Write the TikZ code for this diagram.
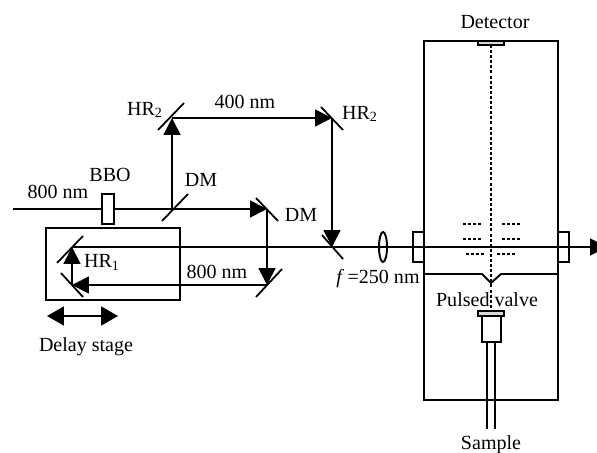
\documentclass[tikz,border=0pt]{standalone}
\usepackage{fontspec}
\setmainfont{Liberation Serif}
\usetikzlibrary{arrows.meta}
\tikzset{
  beam/.style={line width=1pt, -{Triangle[length=0.34cm,width=0.34cm]}},
  mirror/.style={line width=1pt},
  wall/.style={line width=1.1pt},
  plate/.style={line width=1pt, dash pattern=on 1.9pt off 0.95pt},
  every node/.style={font=\fontsize{11.4}{13}\selectfont, inner sep=0pt}
}
\begin{document}
\begin{tikzpicture}[x=0.02cm, y=-0.02cm]
    \useasboundingbox (0,0) rectangle (597,452);
    % Beam points
    \coordinate (start) at (13,209);
    \coordinate (dmA) at (172,209);
    \coordinate (dmB) at (267,209);
    \coordinate (hrLeft) at (172,118);
    \coordinate (hrRight) at (332,118);
    \coordinate (foldA) at (267,285);
    \coordinate (hrLow) at (72,285);
    \coordinate (hrHigh) at (72,247);
    \coordinate (dmC) at (332,247);
    \coordinate (exit) at (607,247);
    \coordinate (slideL) at (47,316);
    \coordinate (slideR) at (118,316);

    % Delay stage
    \draw[wall] (46,228) rectangle (180,300);

    % Beams
    \draw[mirror] (start) -- (dmA);
    \draw[beam] (dmA) -- (dmB);
    \draw[beam] (dmA) -- (hrLeft);
    \draw[beam] (hrLeft) -- (hrRight);
    \draw[beam] (hrRight) -- (dmC);
    \draw[beam] (dmB) -- (foldA);
    \draw[beam] (foldA) -- (hrLow);
    \draw[beam] (hrLow) -- (hrHigh);
    \draw[beam] (hrHigh) -- (exit);
    \draw[beam, {Triangle[length=0.34cm,width=0.38cm]}-{Triangle[length=0.34cm,width=0.38cm]}] (slideL) -- (slideR);

    % Crystal
    \draw[mirror, fill=white] (102,194) rectangle (114,224);

    % Mirrors
    \draw[mirror] (162,221) -- (188,194);
    \draw[mirror] (158,130) -- (184,103);
    \draw[mirror] (321,107) -- (343,130);
    \draw[mirror] (322,235) -- (343,259);
    \draw[mirror] (256,198) -- (278,221);
    \draw[mirror] (256,297) -- (282,269);
    \draw[mirror] (57,263) -- (83,236);
    \draw[mirror] (61,273) -- (83,297);

    % Lens
    \draw[wall] (383,247) ellipse (4 and 15);

    % Chamber
    \draw[wall] (424,41) rectangle (558,400);
    \draw[wall] (424,274) -- (482,274) -- (491,283) -- (501,274) -- (558,274);
    \draw[mirror, fill=black!15] (478,41) rectangle (504,45);
    \draw[mirror] (413,232) rectangle (424,262);
    \draw[mirror] (558,232) rectangle (569,262);

    % Flight axis and plates
    \draw[line width=1.2pt, dash pattern=on 1.7pt off 1.2pt] (491,45) -- (491,308);
    \foreach \y in {224,239} {
        \draw[plate] (463,\y) -- (483,\y);
        \draw[plate] (502,\y) -- (522,\y);
    }
    \draw[plate] (466,254) -- (486,254);
    \draw[plate] (497,254) -- (517,254);

    % Valve
    \draw[wall, fill=black!15] (478,311) rectangle (504,316);
    \draw[wall] (482,316) rectangle (501,342);
    \draw[mirror] (487,342) -- (487,429);
    \draw[mirror] (495,342) -- (495,429);

    % Labels
    \node (inlabel) at (58,192) {800 nm};
    \node (bbolabel) at (110,175) {BBO};
    \node (dmlabelA) at (201,180) {DM};
    \node (dmlabelB) at (301,215) {DM};
    \node (hrlabelA) at (145,110) {HR\textsubscript{2}};
    \node (hrlabelB) at (360,114) {HR\textsubscript{2}};
    \node (hrlabelC) at (102,262) {HR\textsubscript{1}};
    \node (bluelabel) at (245,102) {400 nm};
    \node (redlabel) at (217,272) {800 nm};
    \node (stagelabel) at (86,347) {Delay stage};
    \node (lenslabel) at (378,279) {\textit{f}\,=250 nm};
    \node (detlabel) at (495,22) {Detector};
    \node (valvelabel) at (487,300) {Pulsed valve};
    \node (samplelabel) at (491,445) {Sample};
\end{tikzpicture}
\end{document}
